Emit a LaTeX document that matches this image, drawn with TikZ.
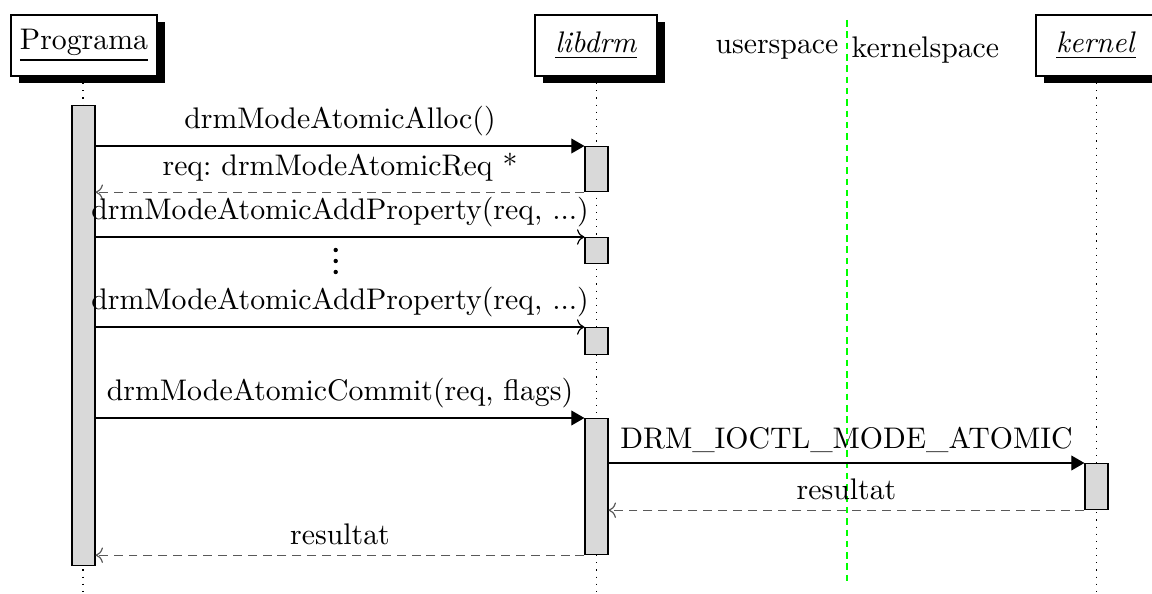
\documentclass[tikz,border=0pt]{standalone}
\usetikzlibrary{shadows,arrows.meta}
\newlength\pxu
\setlength\pxu{0.3356pt}
\tikzset{
  headbox/.style={draw, fill=white, inner sep=0pt, minimum height=61\pxu,
    drop shadow={shadow xshift=7.5\pxu, shadow yshift=-7.5\pxu, opacity=1, fill=black}},
  actbox/.style={draw, fill=gray!30, inner sep=0pt, minimum width=23\pxu, anchor=north},
  lifeline/.style={dotted},
  call/.style={-{Triangle[length=4.4pt,width=5pt]}},
  msg/.style={->},
  reply/.style={->, draw=black!65, dash pattern=on 3pt off 2pt},
  border/.style={green, dash pattern=on 2.2pt off 1.6pt},
  ellipsisdot/.style={fill, circle, inner sep=0pt, minimum size=4.4\pxu},
}
\begin{document}
\begin{tikzpicture}[x=\pxu, y=-\pxu]
\useasboundingbox (0,0) rectangle (1152,594);

% lifelines
\coordinate (progBot) at (83,594);
\coordinate (libBot) at (596.5,594);
\coordinate (kerBot) at (1096.5,594);
\draw[lifeline] (83,76) -- (progBot);
\draw[lifeline] (596.5,76) -- (libBot);
\draw[lifeline] (1096.5,76) -- (kerBot);

% lifeline heads
\node[headbox, minimum width=146\pxu] (prog) at (84,45.5) {\underline{Programa}};
\node[headbox, minimum width=122\pxu] (lib) at (596,45.5) {\underline{\textit{libdrm}}};
\node[headbox, minimum width=120\pxu] (ker) at (1096,45.5) {\underline{\textit{kernel}}};

% userspace / kernelspace border
\coordinate (sepTop) at (847,20);
\coordinate (sepBot) at (847,585);
\draw[border] (sepTop) -- (sepBot);
\node[anchor=east, inner sep=0pt] (us) at (839,50) {userspace};
\node[anchor=west, inner sep=0pt] (ks) at (851,50) {kernelspace};

% activations
\node[actbox, minimum height=460\pxu] (pa) at (83.5,105) {};
\node[actbox, minimum height=45\pxu] (la1) at (596.5,146) {};
\node[actbox, minimum height=26\pxu] (la2) at (596.5,237) {};
\node[actbox, minimum height=27\pxu] (la3) at (596.5,327) {};
\node[actbox, minimum height=136\pxu] (la4) at (596.5,418) {};
\node[actbox, minimum height=46\pxu] (ka) at (1096.5,463) {};

% messages
\draw[call] (pa.east |- la1.north) -- node[above] {drmModeAtomicAlloc()} (la1.north west);
\draw[reply] (la1.south west) -- node[above, text=black] {req:\ drmModeAtomicReq *} (pa.east |- la1.south);
\draw[msg] (pa.east |- la2.north) -- node[above] {drmModeAtomicAddProperty(req, ...)} (la2.north west);
\node[ellipsisdot] (dot1) at (335.7,250) {};
\node[ellipsisdot] (dot2) at (335.7,261) {};
\node[ellipsisdot] (dot3) at (335.7,272) {};
\draw[msg] (pa.east |- la3.north) -- node[above] {drmModeAtomicAddProperty(req, ...)} (la3.north west);
\draw[call] (pa.east |- la4.north) -- node[above] {drmModeAtomicCommit(req, flags)} (la4.north west);
\draw[call] (la4.east |- ka.north) -- node[above] {DRM\_IOCTL\_MODE\_ATOMIC} (ka.north west);
\draw[reply] (ka.south west) -- node[above, text=black] {resultat} (la4.east |- ka.south);
\draw[reply] (la4.south west) -- node[above, text=black] {resultat} (pa.east |- la4.south);
\end{tikzpicture}
\end{document}
